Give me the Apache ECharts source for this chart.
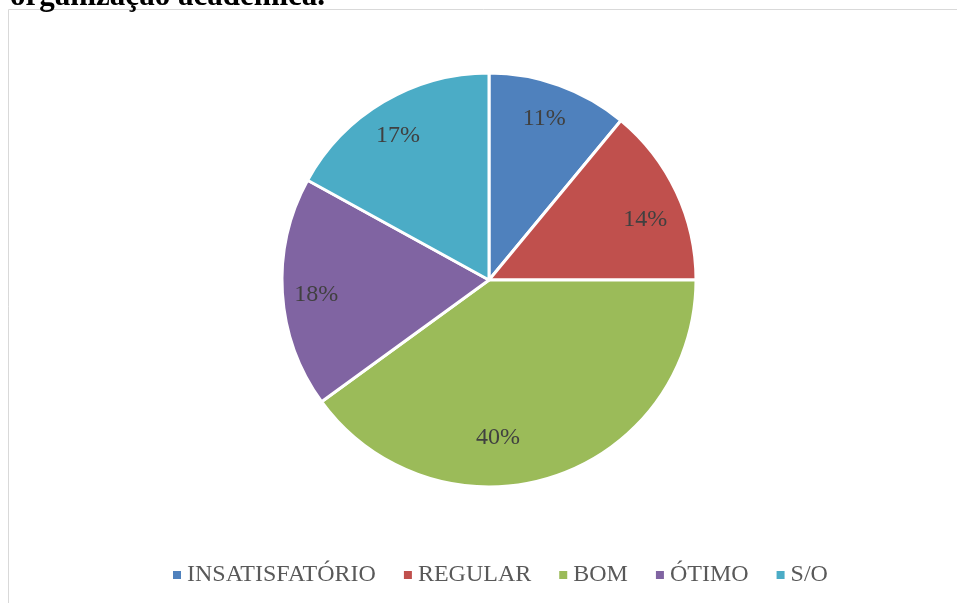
<!DOCTYPE html>
<html>
<head>
<meta charset="utf-8">
<script src="https://cdn.jsdelivr.net/npm/echarts@6/dist/echarts.min.js"></script>
<style>
  html, body {margin: 0; padding: 0; background: #fff;}
  #chart {width: 957px; height: 603px;}
</style>
</head>
<body>
<div id="chart"></div>
<script>
var categories = ['INSATISFATÓRIO', 'REGULAR', 'BOM', 'ÓTIMO', 'S/O'];
var values = [11, 14, 40, 18, 17];
var colors = ['#4F81BD', '#C0504D', '#9BBB59', '#8064A2', '#4BACC6'];
var titleText = 'organização acadêmica.';

var myChart = echarts.init(document.getElementById('chart'));

var serif = '"Liberation Serif", "DejaVu Serif", serif';

// small nudges so the labels land where Excel put them
var labelNudge = [[-4, 3], [-2, 14], [-45, -9], [2, 4], [-2, 6]];

var sliceData = categories.map(function (name, i) {
    return {name: name, value: values[i], itemStyle: {color: colors[i]}};
});
// labels drawn by a transparent ring so they sit near the rim
var labelData = categories.map(function (name, i) {
    return {name: name, value: values[i], label: {offset: labelNudge[i]}};
});

myChart.setOption({
    animation: false,
    color: colors,
    graphic: [
        {
            type: 'rect',
            shape: {x: 8.5, y: 9.5, width: 1000, height: 700},
            style: {fill: 'none', stroke: '#d9d9d9', lineWidth: 1},
            silent: true
        },
        {
            type: 'text',
            x: 10,
            y: -19,
            style: {
                text: titleText,
                font: 'bold 31px ' + serif,
                fill: '#000'
            },
            silent: true
        }
    ],
    legend: {
        bottom: 11,
        left: 166,
        icon: 'rect',
        itemWidth: 10,
        itemHeight: 10,
        itemGap: 26,
        textStyle: {fontFamily: serif, fontSize: 24, color: '#595959'},
        data: categories
    },
    series: [
        {
            type: 'pie',
            center: [489, 280],
            radius: [0, 207],
            startAngle: 90,
            clockwise: true,
            label: {show: false},
            labelLine: {show: false},
            itemStyle: {borderColor: '#fff', borderWidth: 3},
            emphasis: {disabled: true},
            data: sliceData
        },
        {
            type: 'pie',
            center: [489, 280],
            radius: [140, 204],
            startAngle: 90,
            clockwise: true,
            silent: true,
            legendHoverLink: false,
            itemStyle: {color: 'rgba(0,0,0,0)'},
            label: {
                show: true,
                position: 'inside',
                formatter: '{c}%',
                fontFamily: serif,
                fontSize: 24,
                color: '#404040'
            },
            labelLine: {show: false},
            emphasis: {disabled: true},
            data: labelData
        }
    ]
});
</script>
</body>
</html>
